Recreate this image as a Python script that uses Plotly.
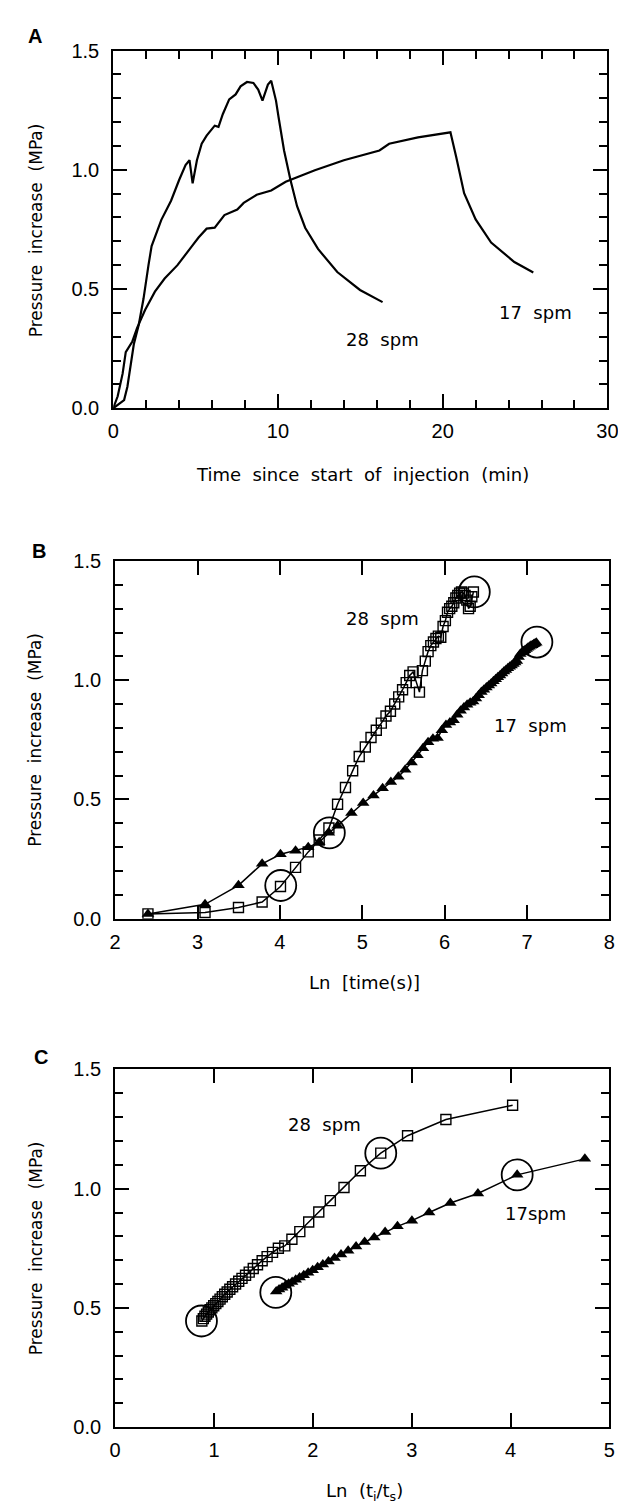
import plotly.graph_objects as go

# ---------------- Panel A data (time in min, pressure in MPa) ----------------
a28_t = [0, 0.66, 0.86, 1.06, 1.25, 1.55, 1.84, 2.14, 2.33, 2.92, 3.51, 4.0, 4.39, 4.63, 4.82,
         5.08, 5.37, 5.67, 6.16, 6.39, 6.65, 7.04, 7.43, 7.73, 8.12, 8.51, 8.8, 9.06, 9.39, 9.59,
         9.88, 10.04, 10.37, 10.76, 11.16, 11.65, 12.43, 13.6, 14.98, 16.35]
a28_p = [0, 0.034, 0.09, 0.186, 0.268, 0.35, 0.46, 0.6, 0.68, 0.79, 0.87, 0.957, 1.02, 1.04, 0.943,
         1.04, 1.109, 1.143, 1.185, 1.18, 1.233, 1.295, 1.316, 1.35, 1.368, 1.364, 1.336, 1.29, 1.357, 1.373,
         1.29, 1.219, 1.081, 0.957, 0.847, 0.757, 0.668, 0.571, 0.496, 0.445]
a17_t = [0, 0.27, 0.57, 0.76, 1.16, 1.45, 1.94, 2.53, 3.12, 3.9, 4.78, 5.18, 5.67, 6.16, 6.75,
         7.14, 7.53, 7.92, 8.71, 9.59, 10.47, 12.24, 14.0, 16.16, 16.75, 18.5, 20.3, 20.47,
         20.82, 21.3, 22.0, 22.94, 24.35, 25.5]
a17_p = [0, 0.05, 0.145, 0.235, 0.28, 0.337, 0.413, 0.489, 0.544, 0.6, 0.68, 0.716, 0.753, 0.757, 0.81,
         0.822, 0.833, 0.861, 0.895, 0.913, 0.95, 0.998, 1.04, 1.081, 1.109, 1.136, 1.155, 1.157,
         1.054, 0.902, 0.792, 0.695, 0.613, 0.569]

# ---------------- Panel B data (Ln time[s], pressure) ----------------
b28_x = [2.398, 3.091, 3.497, 3.784, 4.007, 4.190, 4.344, 4.477, 4.595, 4.700, 4.796, 4.883, 4.963,
         5.037, 5.106, 5.170, 5.231, 5.288, 5.342, 5.394, 5.442, 5.489, 5.533, 5.576, 5.617, 5.656,
         5.694, 5.730, 5.765, 5.799, 5.832, 5.864, 5.894, 5.924, 5.953, 5.981, 6.009, 6.035, 6.061,
         6.087, 6.111, 6.136, 6.159, 6.182, 6.205, 6.227, 6.248, 6.269, 6.290, 6.310, 6.330, 6.349]
b28_p = [0.02, 0.026, 0.047, 0.07, 0.135, 0.215, 0.28, 0.33, 0.38, 0.48, 0.55, 0.62, 0.68,
         0.72, 0.76, 0.79, 0.82, 0.85, 0.87, 0.90, 0.93, 0.96, 0.99, 1.02, 1.035, 0.99,
         0.95, 1.04, 1.08, 1.12, 1.145, 1.16, 1.175, 1.185, 1.18, 1.225, 1.25, 1.285, 1.30,
         1.31, 1.325, 1.345, 1.355, 1.365, 1.37, 1.365, 1.355, 1.336, 1.30, 1.31, 1.35, 1.37]
b17_x = [2.398, 3.091, 3.497, 3.784, 4.007, 4.190, 4.344, 4.477, 4.595, 4.700, 4.868, 5.011, 5.136,
         5.247, 5.347, 5.438, 5.521, 5.598, 5.670, 5.737, 5.799, 5.858, 5.914, 5.966, 6.016, 6.064,
         6.109, 6.153, 6.194, 6.234, 6.273, 6.310, 6.346, 6.380, 6.413, 6.446, 6.477, 6.507, 6.537,
         6.565, 6.593, 6.620, 6.646, 6.672, 6.697, 6.721, 6.745, 6.768, 6.791, 6.813, 6.835, 6.856,
         6.877, 6.898, 6.918, 6.937, 6.957, 6.975, 6.994, 7.012, 7.030, 7.048, 7.065, 7.082, 7.098, 7.113]
b17_p = [0.02, 0.06, 0.14, 0.23, 0.27, 0.285, 0.30, 0.32, 0.36, 0.39, 0.443, 0.485, 0.517,
         0.547, 0.573, 0.595, 0.625, 0.655, 0.685, 0.715, 0.74, 0.755, 0.758, 0.79, 0.812, 0.823,
         0.832, 0.855, 0.872, 0.886, 0.897, 0.905, 0.911, 0.923, 0.937, 0.951, 0.96, 0.969, 0.978,
         0.986, 0.996, 1.004, 1.012, 1.02, 1.028, 1.036, 1.043, 1.05, 1.056, 1.062, 1.068, 1.074,
         1.081, 1.097, 1.11, 1.116, 1.121, 1.126, 1.131, 1.136, 1.14, 1.144, 1.147, 1.151, 1.154, 1.157]
b_circ_x = [4.01, 4.6, 6.36, 7.12]
b_circ_p = [0.139, 0.36, 1.37, 1.16]

# ---------------- Panel C data (Ln(ti/ts), pressure) ----------------
c28_x = [4.021, 3.346, 2.958, 2.687, 2.481, 2.315, 2.177, 2.060, 1.958, 1.868, 1.788, 1.716, 1.651,
         1.592, 1.537, 1.487, 1.440, 1.397, 1.356, 1.319, 1.283, 1.250, 1.218, 1.188, 1.160, 1.133,
         1.108, 1.084, 1.061, 1.039, 1.018, 0.997, 0.978, 0.960, 0.942, 0.925, 0.908, 0.892, 0.877]
c28_p = [1.35, 1.29, 1.222, 1.149, 1.075, 1.005, 0.95, 0.902, 0.86, 0.82, 0.788, 0.76, 0.75,
         0.733, 0.715, 0.698, 0.681, 0.665, 0.65, 0.637, 0.624, 0.612, 0.6, 0.589, 0.578, 0.567,
         0.557, 0.547, 0.537, 0.527, 0.518, 0.509, 0.50, 0.492, 0.483, 0.474, 0.465, 0.455, 0.445]
c17_x = [4.752, 4.067, 3.670, 3.391, 3.176, 3.002, 2.856, 2.731, 2.621, 2.524, 2.437, 2.357, 2.285,
         2.219, 2.158, 2.101, 2.048, 1.998, 1.952, 1.908, 1.866, 1.827, 1.790, 1.755, 1.721, 1.689,
         1.658, 1.629]
c17_p = [1.125, 1.058, 0.98, 0.94, 0.90, 0.866, 0.842, 0.818, 0.795, 0.776, 0.757, 0.74, 0.724,
         0.709, 0.695, 0.682, 0.67, 0.658, 0.647, 0.637, 0.627, 0.618, 0.609, 0.601, 0.593, 0.585,
         0.577, 0.569]
c_circ_x = [0.873, 1.625, 2.687, 4.067]
c_circ_p = [0.445, 0.565, 1.149, 1.058]

W, H = 626, 1507
BLACK = "black"
TICKFONT = dict(family="Liberation Sans, Arial, sans-serif", size=20, color=BLACK)
TXTFONT = dict(family="DejaVu Sans, sans-serif", size=18, color=BLACK)
YTFONT = dict(family="DejaVu Sans, sans-serif", size=17, color=BLACK)


def px(x, y):
    return x / W, 1 - y / H


fig = go.Figure()

# Panel A
for xs, ys in ((a28_t, a28_p), (a17_t, a17_p)):
    fig.add_trace(go.Scatter(x=xs, y=ys, mode="lines", line=dict(color=BLACK, width=2.2),
                             xaxis="x", yaxis="y", showlegend=False))

SQ = dict(symbol="square-open", size=10, color=BLACK, line=dict(width=1.4, color=BLACK))
TR = dict(symbol="triangle-up", size=11, color=BLACK)
CI = dict(symbol="circle-open", size=31, color=BLACK, line=dict(width=1.8, color=BLACK))

# Panel B
fig.add_trace(go.Scatter(x=b28_x, y=b28_p, mode="lines+markers", line=dict(color=BLACK, width=1.5),
                         marker=SQ, xaxis="x2", yaxis="y2", showlegend=False))
fig.add_trace(go.Scatter(x=b17_x, y=b17_p, mode="lines+markers", line=dict(color=BLACK, width=1.5),
                         marker=TR, xaxis="x2", yaxis="y2", showlegend=False))
fig.add_trace(go.Scatter(x=b_circ_x, y=b_circ_p, mode="markers", marker=CI,
                         xaxis="x2", yaxis="y2", showlegend=False))

# Panel C
fig.add_trace(go.Scatter(x=c28_x, y=c28_p, mode="lines+markers", line=dict(color=BLACK, width=1.5),
                         marker=SQ, xaxis="x3", yaxis="y3", showlegend=False))
fig.add_trace(go.Scatter(x=c17_x, y=c17_p, mode="lines+markers", line=dict(color=BLACK, width=1.5),
                         marker=TR, xaxis="x3", yaxis="y3", showlegend=False))
fig.add_trace(go.Scatter(x=c_circ_x, y=c_circ_p, mode="markers", marker=CI,
                         xaxis="x3", yaxis="y3", showlegend=False))


def xax(domain, rng, dtick, minor_dtick, anchor):
    d = dict(domain=domain, range=rng, dtick=dtick, tick0=rng[0], ticks="inside", ticklen=14,
             tickwidth=2, tickcolor=BLACK, showline=True, linewidth=2, linecolor=BLACK,
             mirror="ticks", showgrid=False, zeroline=False, tickfont=TICKFONT,
             ticklabelstandoff=4, anchor=anchor, fixedrange=True)
    if minor_dtick:
        d["minor"] = dict(dtick=minor_dtick, tick0=rng[0], ticks="inside", ticklen=8, tickwidth=2,
                          tickcolor=BLACK, showgrid=False)
    return d


def yax(domain, anchor):
    return dict(domain=domain, range=[0, 1.5], dtick=0.5, tick0=0, tickformat=".1f",
                ticks="inside", ticklen=14, tickwidth=2, tickcolor=BLACK, showline=True,
                linewidth=2, linecolor=BLACK, mirror="ticks", showgrid=False, zeroline=False,
                tickfont=TICKFONT, ticklabelstandoff=8, anchor=anchor, fixedrange=True,
                minor=dict(dtick=0.1, tick0=0, ticks="inside", ticklen=8, tickwidth=2,
                           tickcolor=BLACK, showgrid=False))


def dom_x(l, r):
    return [l / W, r / W]


def dom_y(top, bottom):
    return [1 - bottom / H, 1 - top / H]


fig.update_layout(
    width=W, height=H, margin=dict(l=0, r=0, t=0, b=0),
    paper_bgcolor="white", plot_bgcolor="white",
    xaxis=xax(dom_x(102, 610), [0, 30], 10, 2, "y"),
    yaxis=yax(dom_y(32, 395), "x"),
    xaxis2=xax(dom_x(104, 612), [2, 8], 1, None, "y2"),
    yaxis2=yax(dom_y(550, 913), "x2"),
    xaxis3=xax(dom_x(104, 612), [0, 5], 1, None, "y3"),
    yaxis3=yax(dom_y(1066, 1429), "x3"),
)

ann = []
NB = "\u00a0"
ytitle = "Pressure" + NB * 2 + "increase" + NB * 2 + "(MPa)"
for cy in (214, 731, 1247):
    x, y = px(22, cy)
    ann.append(dict(x=x, y=y, xref="paper", yref="paper", text=ytitle, textangle=-90,
                    showarrow=False, font=YTFONT, xanchor="center", yanchor="middle"))

for txt, cx, cy in [("Time" + NB * 2 + "since" + NB * 2 + "start" + NB * 2 + "of" + NB * 2 + "injection" + NB * 2 + "(min)", 358, 462),
                    ("Ln" + NB * 2 + "[time(s)]", 360, 978),
                    ("Ln" + NB * 2 + "(t<sub>i</sub>/t<sub>s</sub>)", 360, 1495)]:
    x, y = px(cx, cy)
    ann.append(dict(x=x, y=y, xref="paper", yref="paper", text=txt, showarrow=False,
                    font=TXTFONT, xanchor="center", yanchor="middle"))

for letter, cx, cy in [("A", 22, 17), ("B", 26, 540), ("C", 28, 1053)]:
    x, y = px(cx, cy)
    ann.append(dict(x=x, y=y, xref="paper", yref="paper", text="<b>" + letter + "</b>",
                    showarrow=False, font=dict(family="Liberation Sans, Arial, sans-serif", size=20, color=BLACK),
                    xanchor="center", yanchor="middle"))

spm = NB * 2 + "spm"
for txt, xr, yr, xv, yv in [("28" + spm, "x", "y", 16.35, 0.29), ("17" + spm, "x", "y", 25.65, 0.40),
                            ("28" + spm, "x2", "y2", 5.25, 1.26), ("17" + spm, "x2", "y2", 7.04, 0.81),
                            ("28" + spm, "x3", "y3", 2.12, 1.27), ("17spm", "x3", "y3", 4.25, 0.897)]:
    ann.append(dict(x=xv, y=yv, xref=xr, yref=yr, text=txt, showarrow=False, font=TXTFONT,
                    xanchor="center", yanchor="middle"))

fig.update_layout(annotations=ann)
fig.write_html("out.html")
